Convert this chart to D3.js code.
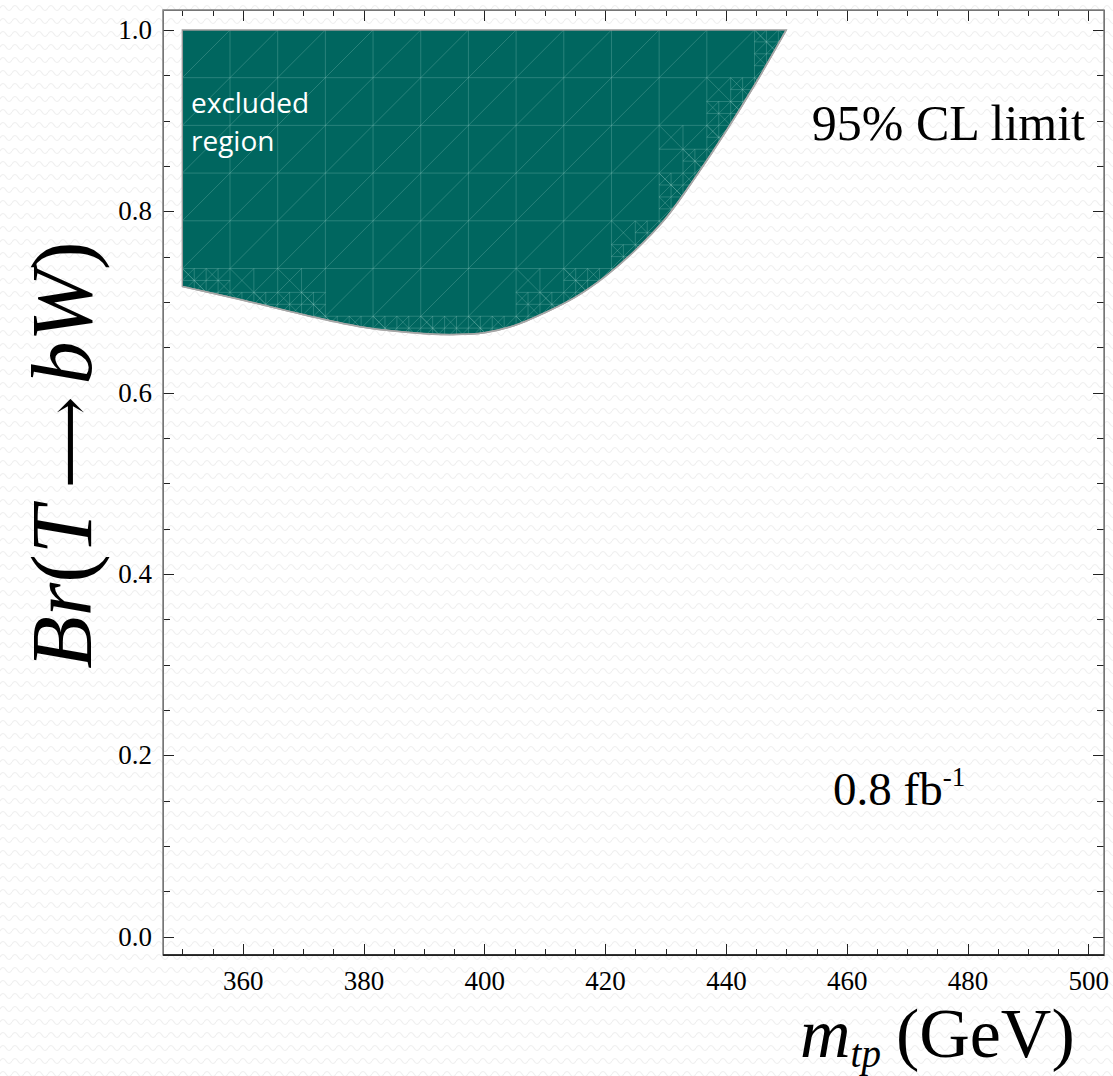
<!DOCTYPE html>
<html>
<head>
<meta charset="utf-8">
<script src="https://cdn.jsdelivr.net/npm/d3@7"></script>
<style>
  body { margin: 0; background: #ffffff; }
  svg { display: block; }
  .axis path, .axis line { shape-rendering: crispEdges; }
</style>
</head>
<body>
<div id="chart"></div>
<script>
// excluded-region boundary (95% CL)
const boundaryMass = [350, 360, 370, 380, 390, 395, 400, 405, 410, 415, 420, 425, 430, 435, 440, 445, 450]
const boundaryBr = [0.717, 0.702, 0.686, 0.672, 0.665, 0.664, 0.666, 0.674, 0.688, 0.705, 0.728, 0.757, 0.792, 0.838, 0.888, 0.942, 1.0]

const xTicks = [360, 380, 400, 420, 440, 460, 480, 500]
const xMinor = d3.range(350, 505, 5)
const yTicks = [0.0, 0.2, 0.4, 0.6, 0.8, 1.0]
const yMinor = d3.range(0, 1.0001, 0.05)

const width = 1113, height = 1076
const frame = { left: 163, right: 1104, top: 10, bottom: 955 }

const serif = '"Liberation Serif", "Times New Roman", serif'

const x = d3.scaleLinear().domain([346.8, 502.6]).range([frame.left, frame.right])
const y = d3.scaleLinear().domain([-0.0204, 1.022]).range([frame.bottom, frame.top])

const svg = d3.select('#chart')
  .append('svg')
  .attr('width', width)
  .attr('height', height)

// faint wavy paper texture
const defs = svg.append('defs')
const pat = defs.append('pattern')
  .attr('id', 'paper')
  .attr('patternUnits', 'userSpaceOnUse')
  .attr('width', 12)
  .attr('height', 13)
pat.append('rect').attr('width', 12).attr('height', 13).attr('fill', '#ffffff')
pat.append('path')
  .attr('d', 'M0,8 Q3,3 6,8 T12,8')
  .attr('fill', 'none')
  .attr('stroke', '#efefef')
  .attr('stroke-width', 1.2)

svg.append('rect')
  .attr('width', width)
  .attr('height', height)
  .attr('fill', 'url(#paper)')

const data = boundaryMass.map((m, i) => ({ m: m, br: boundaryBr[i] }))

const curve = d3.curveCatmullRom.alpha(0.5)

const area = d3.area()
  .x(d => x(d.m))
  .y0(d => y(d.br))
  .y1(y(1))
  .curve(curve)

defs.append('clipPath')
  .attr('id', 'regionClip')
  .append('path')
  .attr('d', area(data))

svg.append('path')
  .attr('d', area(data))
  .attr('fill', '#00665f')

// mesh of the region plot (19 cells over the full range), refined near the edge
const nCell = 19
const dx = 150 / nCell, dy = 1 / nCell
const brAt = m => {
  if (m < 350 || m > 450) return 2
  let i = d3.bisectRight(boundaryMass, m) - 1
  if (i >= boundaryMass.length - 1) i = boundaryMass.length - 2
  const t = (m - boundaryMass[i]) / (boundaryMass[i + 1] - boundaryMass[i])
  return boundaryBr[i] + t * (boundaryBr[i + 1] - boundaryBr[i])
}
const inside = (m, b) => b >= brAt(m) - 1e-9

const mesh = []
const cell = (x0, y0, w, h, depth) => {
  const corners = [[x0, y0], [x0 + w, y0], [x0, y0 + h], [x0 + w, y0 + h], [x0 + w / 2, y0 + h / 2]]
  const n = corners.filter(c => inside(c[0], c[1])).length
  if (n === 0) return
  const edge = n < corners.length
  if (edge && depth < 2) {
    mesh.push([x0 + w / 2, y0, x0 + w / 2, y0 + h])
    mesh.push([x0, y0 + h / 2, x0 + w, y0 + h / 2])
    mesh.push([x0, y0 + h, x0 + w, y0])
    for (let i = 0; i < 2; i++)
      for (let j = 0; j < 2; j++)
        cell(x0 + i * w / 2, y0 + j * h / 2, w / 2, h / 2, depth + 1)
    return
  }
  mesh.push([x0, y0, x0 + w, y0 + h])
}

for (let i = 0; i < nCell; i++) {
  for (let j = 0; j < nCell; j++) {
    cell(350 + i * dx, j * dy, dx, dy, 0)
  }
}
for (let k = 1; k < nCell; k++) {
  mesh.push([350 + k * dx, 0, 350 + k * dx, 1])
  mesh.push([350, k * dy, 500, k * dy])
}

svg.append('g')
  .attr('clip-path', 'url(#regionClip)')
  .selectAll('line')
  .data(mesh)
  .enter()
  .append('line')
  .attr('x1', d => x(d[0]))
  .attr('y1', d => y(d[1]))
  .attr('x2', d => x(d[2]))
  .attr('y2', d => y(d[3]))
  .attr('stroke', 'rgba(170,220,215,0.3)')
  .attr('stroke-width', 0.8)

// outline of the region
const outline = d3.line()
  .x(d => x(d.m))
  .y(d => y(d.br))
  .curve(curve)

svg.append('path')
  .attr('d', area(data))
  .attr('fill', 'none')
  .attr('stroke', '#9a9a9a')
  .attr('stroke-width', 1.4)

svg.append('path')
  .attr('d', outline(data))
  .attr('fill', 'none')
  .attr('stroke', '#a8a8a8')
  .attr('stroke-width', 1.6)

// axes: ticks point into the frame
const tickFont = g => g.selectAll('text')
  .style('font-family', serif)
  .style('font-size', '27px')
  .attr('fill', '#000')

const styleAxis = (g, col) => {
  g.attr('class', 'axis')
  g.selectAll('path').attr('stroke', col).attr('stroke-width', 1.6)
  g.selectAll('line').attr('stroke', '#222').attr('stroke-width', 1)
}

svg.append('g')
  .attr('transform', `translate(0,${frame.bottom})`)
  .call(d3.axisBottom(x).tickValues(xMinor).tickSizeInner(-6).tickSizeOuter(0).tickFormat(''))
  .call(g => styleAxis(g, '#111'))

svg.append('g')
  .attr('transform', `translate(0,${frame.bottom})`)
  .call(d3.axisBottom(x).tickValues(xTicks).tickSizeInner(-11).tickSizeOuter(0).tickPadding(16).tickFormat(d3.format('d')))
  .call(g => styleAxis(g, '#111'))
  .call(tickFont)

svg.append('g')
  .attr('transform', `translate(0,${frame.top})`)
  .call(d3.axisTop(x).tickValues(xMinor).tickSizeInner(-6).tickSizeOuter(0).tickFormat(''))
  .call(g => styleAxis(g, '#777'))

svg.append('g')
  .attr('transform', `translate(0,${frame.top})`)
  .call(d3.axisTop(x).tickValues(xTicks).tickSizeInner(-11).tickSizeOuter(0).tickFormat(''))
  .call(g => styleAxis(g, '#777'))

svg.append('g')
  .attr('transform', `translate(${frame.left},0)`)
  .call(d3.axisLeft(y).tickValues(yMinor).tickSizeInner(-7).tickSizeOuter(0).tickFormat(''))
  .call(g => styleAxis(g, '#777'))

svg.append('g')
  .attr('transform', `translate(${frame.left},0)`)
  .call(d3.axisLeft(y).tickValues(yTicks).tickSizeInner(-11).tickSizeOuter(0).tickPadding(11).tickFormat(d3.format('.1f')))
  .call(g => styleAxis(g, '#777'))
  .call(tickFont)

svg.append('g')
  .attr('transform', `translate(${frame.right},0)`)
  .call(d3.axisRight(y).tickValues(yMinor).tickSizeInner(-7).tickSizeOuter(0).tickFormat(''))
  .call(g => styleAxis(g, '#777'))

svg.append('g')
  .attr('transform', `translate(${frame.right},0)`)
  .call(d3.axisRight(y).tickValues(yTicks).tickSizeInner(-11).tickSizeOuter(0).tickFormat(''))
  .call(g => styleAxis(g, '#777'))

// frame lines to the corners
svg.append('rect')
  .attr('x', frame.left)
  .attr('y', frame.top)
  .attr('width', frame.right - frame.left)
  .attr('height', frame.bottom - frame.top)
  .attr('fill', 'none')
  .attr('stroke', '#777')
  .attr('stroke-width', 1.4)

svg.append('line')
  .attr('x1', frame.left).attr('x2', frame.right)
  .attr('y1', frame.bottom).attr('y2', frame.bottom)
  .attr('stroke', '#111').attr('stroke-width', 1.6)

// labels
svg.append('text')
  .attr('x', 192)
  .attr('y', 113)
  .style('font-family', '"Open Sans", sans-serif')
  .style('font-size', '28px')
  .attr('fill', '#ffffff')
  .selectAll('tspan')
  .data(['excluded', 'region'])
  .enter()
  .append('tspan')
  .attr('x', 191)
  .attr('dy', (d, i) => i ? 38 : 0)
  .text(d => d)

svg.append('text')
  .attr('x', 1085)
  .attr('y', 140)
  .attr('text-anchor', 'end')
  .style('font-family', serif)
  .style('font-size', '50px')
  .attr('fill', '#000')
  .text('95% CL limit')

const lumi = svg.append('text')
  .attr('x', 833)
  .attr('y', 805)
  .style('font-family', serif)
  .style('font-size', '47px')
  .attr('fill', '#000')
lumi.append('tspan').text('0.8 fb')
lumi.append('tspan')
  .style('font-size', '27px')
  .attr('dy', -19)
  .text('-1')

// x axis title
const xt = svg.append('text')
  .attr('x', 800)
  .attr('y', 1057)
  .style('font-family', serif)
  .style('font-size', '70px')
  .attr('fill', '#000')
xt.append('tspan').style('font-style', 'italic').text('m')
xt.append('tspan').style('font-style', 'italic').style('font-size', '39px').attr('dy', 10).text('tp')
xt.append('tspan').attr('dy', -10).attr('dx', 15).text('(GeV)')

// y axis title
const yt = svg.append('text')
  .attr('transform', 'translate(91,455) rotate(-90)')
  .attr('text-anchor', 'middle')
  .style('font-family', serif)
  .style('font-size', '86px')
  .attr('fill', '#000')
yt.append('tspan').style('font-style', 'italic').text('Br')
yt.append('tspan').text('(')
yt.append('tspan').style('font-style', 'italic').text('T')
yt.append('tspan').attr('dx', 18).style('font-family', '"DejaVu Serif", "DejaVu Sans", serif').style('font-size', '64px').text('\u27F6')
yt.append('tspan').attr('dx', 12).style('font-style', 'italic').text('bW')
yt.append('tspan').text(')')
</script>
</body>
</html>
